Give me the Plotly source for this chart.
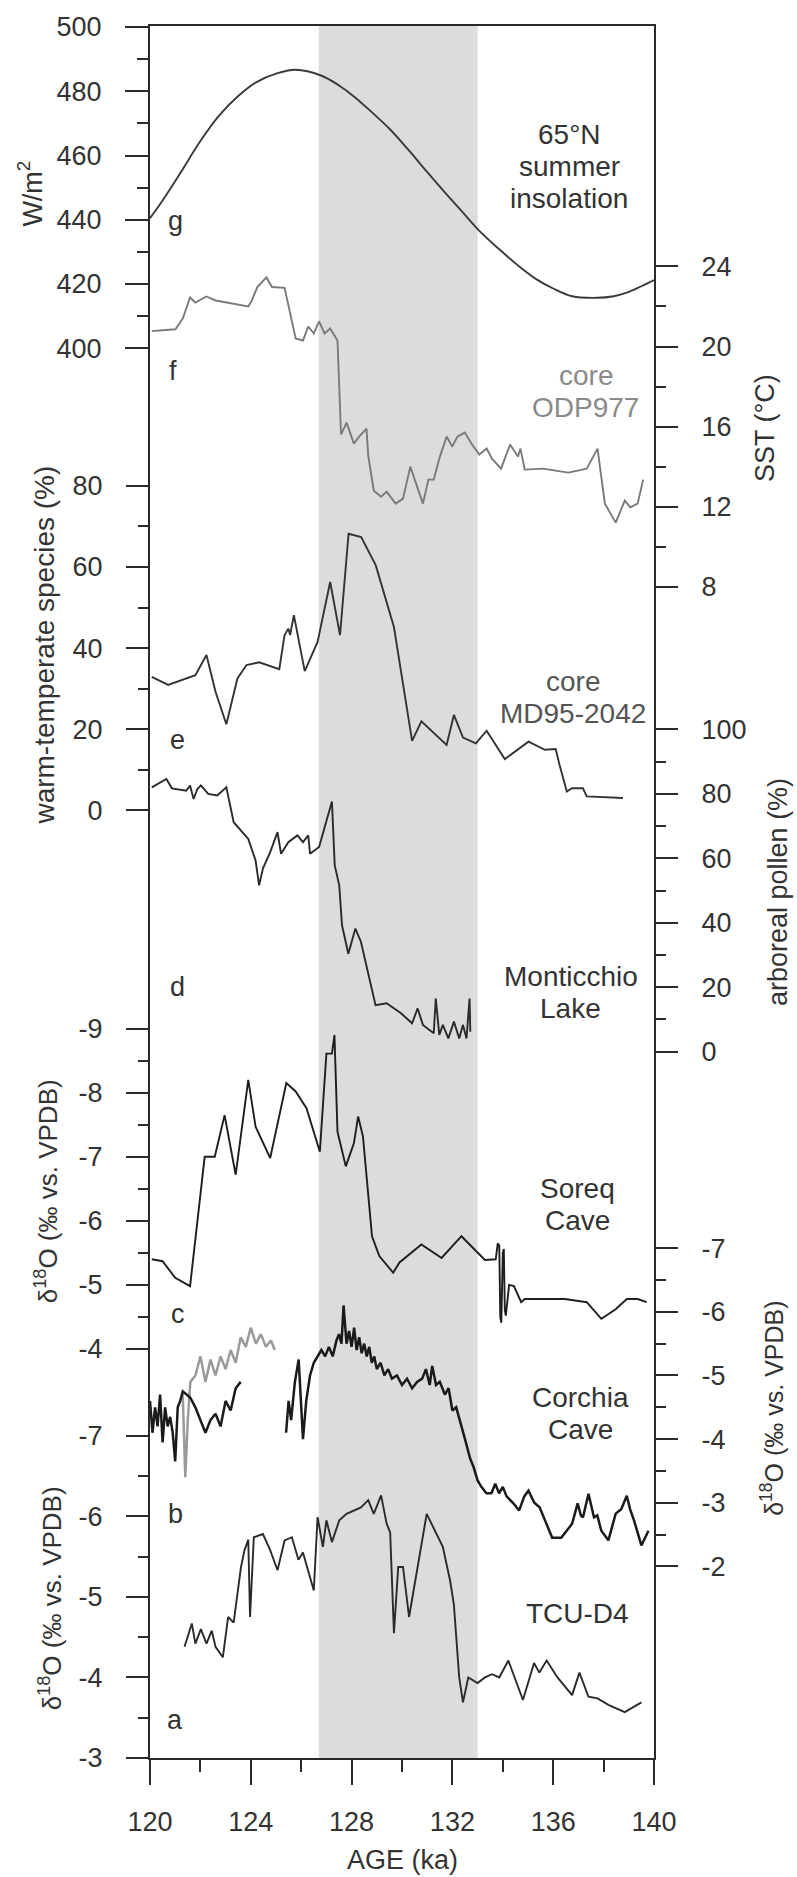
import plotly.graph_objects as go

# ---------------- data ----------------
band_ka = [126.7, 133.0]

# g: 65N summer insolation (W/m2)
ins_age = [120.0, 120.5, 121.16, 122.0, 122.74, 123.5, 124.19, 125.0, 125.78, 126.79, 127.5, 128.09, 128.8, 129.53, 130.25, 130.97, 131.7, 132.42, 133.1, 133.86, 134.6, 135.31, 136.0, 136.75, 137.76, 138.4, 138.92, 139.5, 140.0]
ins_val = [440.5, 446.0, 454.0, 464.5, 472.4, 478.5, 482.7, 485.5, 486.7, 484.9, 481.8, 478.4, 473.5, 468.1, 461.8, 455.1, 448.5, 442.2, 436.3, 430.8, 425.8, 421.6, 418.6, 416.2, 415.7, 416.2, 417.3, 419.3, 421.2]

# f: SST core ODP977 (degC)
sst_age = [120.07, 121.01, 121.3, 121.59, 121.8, 122.24, 122.6, 123.9, 124.04, 124.26, 124.62, 124.84, 125.34, 125.78, 126.07, 126.28, 126.5, 126.71, 126.93, 127.15, 127.44, 127.58, 127.8, 128.09, 128.3, 128.59, 128.66, 128.88, 129.17, 129.39, 129.75, 130.04, 130.33, 130.62, 130.83, 131.05, 131.26, 131.48, 131.77, 131.99, 132.2, 132.49, 132.78, 133.07, 133.36, 133.57, 133.93, 134.29, 134.6, 134.7, 134.87, 135.59, 136.6, 137.33, 137.76, 138.05, 138.48, 138.84, 139.06, 139.35, 139.57]
sst_val = [20.77, 20.86, 21.4, 22.45, 22.2, 22.5, 22.3, 22.0, 22.3, 22.97, 23.45, 22.97, 22.93, 20.4, 20.3, 21.0, 20.65, 21.25, 20.65, 20.9, 20.3, 15.6, 16.2, 15.15, 15.5, 15.9, 14.55, 12.8, 12.5, 12.75, 12.15, 12.4, 14.0, 12.9, 12.15, 13.35, 13.35, 14.4, 15.5, 15.0, 15.5, 15.7, 15.1, 14.6, 14.9, 14.4, 13.9, 15.1, 14.5, 14.9, 13.85, 13.9, 13.7, 13.9, 14.9, 12.15, 11.2, 12.3, 11.97, 12.15, 13.35]

# e: warm-temperate species, core MD95-2042 (%)
wts_age = [120.07, 120.72, 121.8, 122.24, 122.6, 123.03, 123.47, 123.83, 124.33, 125.13, 125.34, 125.49, 125.56, 125.71, 126.14, 126.65, 127.15, 127.54, 127.88, 128.38, 128.96, 129.68, 130.4, 130.77, 131.77, 132.06, 132.42, 132.93, 133.36, 134.08, 135.02, 135.67, 136.1, 136.25, 136.54, 136.75, 137.18, 137.33, 138.77]
wts_val = [32.9, 30.9, 33.3, 38.3, 29.2, 21.2, 32.5, 35.8, 36.5, 34.8, 43.2, 44.8, 43.2, 48.1, 34.3, 41.5, 56.3, 43.2, 68.2, 67.4, 60.4, 45.2, 17.1, 21.9, 16.1, 23.5, 17.9, 16.5, 19.6, 12.6, 16.9, 14.9, 15.1, 11.2, 4.6, 5.4, 5.4, 3.4, 3.0]

# d: arboreal pollen, Monticchio Lake (%)
ap_age = [120.07, 120.65, 120.87, 121.44, 121.59, 121.73, 121.88, 122.02, 122.31, 122.67, 123.03, 123.32, 123.9, 124.19, 124.33, 124.48, 124.77, 125.06, 125.2, 125.49, 125.85, 126.07, 126.28, 126.35, 126.71, 127.22, 127.33, 127.51, 127.62, 127.87, 128.15, 128.37, 128.95, 129.39, 129.96, 130.4, 130.62, 130.83, 131.26, 131.34, 131.48, 131.62, 131.84, 132.06, 132.27, 132.42, 132.56, 132.68, 132.71]
ap_val = [82.0, 84.6, 81.7, 81.0, 82.6, 78.4, 81.5, 82.6, 80.0, 79.5, 82.0, 71.2, 66.0, 59.3, 51.6, 56.8, 61.9, 68.1, 61.4, 65.0, 67.1, 65.0, 67.1, 61.4, 63.5, 77.6, 57.8, 51.6, 39.2, 30.4, 38.2, 34.1, 14.4, 15.0, 11.9, 8.8, 13.4, 8.3, 5.7, 16.5, 5.2, 8.3, 4.1, 9.3, 4.1, 8.3, 4.1, 16.5, 6.2]

# c: Soreq Cave d18O
sor_age = [120.07, 120.5, 121.0, 121.59, 122.17, 122.57, 122.96, 123.4, 123.9, 124.19, 124.77, 125.41, 125.78, 126.21, 126.74, 127.0, 127.22, 127.32, 127.44, 127.77, 128.09, 128.26, 128.45, 128.66, 128.81, 129.1, 129.65, 129.9, 130.77, 131.57, 132.36, 133.29, 133.72, 133.8, 133.86, 133.9, 133.94, 134.0, 134.04, 134.08, 134.12, 134.25, 134.44, 134.73, 134.87, 136.46, 137.33, 137.91, 138.48, 138.92, 139.35, 139.71]
sor_val = [-5.40, -5.37, -5.11, -4.98, -7.0, -7.0, -7.65, -6.72, -8.2, -7.47, -6.98, -8.15, -8.02, -7.76, -7.08, -8.61, -8.61, -8.9, -7.39, -6.85, -7.21, -7.63, -7.32, -6.41, -5.76, -5.45, -5.19, -5.35, -5.63, -5.42, -5.76, -5.39, -5.40, -5.65, -5.61, -4.5, -4.41, -5.5, -5.56, -4.6, -4.52, -5.0, -4.98, -4.73, -4.78, -4.78, -4.73, -4.47, -4.62, -4.78, -4.78, -4.73]

# b: Corchia Cave d18O (black and grey records)
cor1_age = [120.0, 120.1, 120.2, 120.3, 120.4, 120.5, 120.6, 120.7, 120.8, 120.9, 121.0, 121.1, 121.2, 121.3, 121.45, 121.6, 121.8, 122.0, 122.2, 122.4, 122.6, 122.8, 123.0, 123.2, 123.4, 123.6]
cor1_val = [-4.6, -4.1, -4.5, -4.2, -4.7, -3.95, -4.5, -4.2, -4.35, -4.1, -3.65, -4.5, -4.6, -4.75, -4.7, -4.65, -4.5, -4.3, -4.1, -4.3, -4.4, -4.2, -4.6, -4.45, -4.8, -4.9]
corg_age = [121.3, 121.4, 121.5, 121.6, 121.8, 122.0, 122.2, 122.4, 122.6, 122.8, 123.0, 123.2, 123.4, 123.6, 123.8, 124.0, 124.2, 124.4, 124.6, 124.8, 124.95]
corg_val = [-4.7, -3.4, -4.3, -4.9, -5.0, -5.3, -4.9, -5.25, -5.0, -5.3, -5.1, -5.4, -5.2, -5.6, -5.45, -5.75, -5.5, -5.65, -5.45, -5.55, -5.4]
cor2_age = [125.4, 125.5, 125.6, 125.75, 125.9, 126.0, 126.07, 126.2, 126.35, 126.5, 126.65, 126.8, 126.95, 127.1, 127.25, 127.4, 127.5, 127.6, 127.68, 127.8, 127.9, 128.0, 128.1, 128.2, 128.3, 128.4, 128.5, 128.6, 128.7, 128.8, 128.9, 129.0, 129.15, 129.3, 129.45, 129.6, 129.8, 130.0, 130.2, 130.4, 130.6, 130.8, 130.95, 131.1, 131.2, 131.35, 131.5, 131.7, 131.85, 132.0, 132.15, 132.3, 132.5, 132.7, 132.85, 133.0, 133.15, 133.35, 133.55, 133.7, 133.85, 134.0, 134.15, 134.4, 134.65, 134.85, 135.02, 135.25, 135.46, 135.7, 135.96, 136.32, 136.75, 136.97, 137.1, 137.18, 137.4, 137.62, 137.75, 137.91, 138.19, 138.48, 138.7, 138.92, 139.05, 139.21, 139.5, 139.78]
cor2_val = [-4.1, -4.6, -4.3, -4.9, -5.25, -4.4, -4.0, -4.6, -5.0, -5.2, -5.3, -5.4, -5.3, -5.45, -5.3, -5.55, -5.65, -5.5, -6.1, -5.5, -5.7, -5.45, -5.75, -5.4, -5.6, -5.35, -5.5, -5.3, -5.45, -5.2, -5.3, -5.1, -5.2, -5.0, -5.1, -4.95, -5.0, -4.85, -4.95, -4.8, -4.9, -4.95, -5.1, -4.85, -5.15, -4.85, -4.9, -4.7, -4.8, -4.45, -4.5, -4.3, -4.0, -3.7, -3.55, -3.35, -3.25, -3.15, -3.15, -3.3, -3.15, -3.25, -3.1, -3.0, -2.88, -3.1, -3.19, -3.0, -2.93, -2.7, -2.45, -2.45, -2.67, -2.99, -2.8, -2.77, -3.14, -2.77, -2.8, -2.56, -2.41, -2.83, -2.9, -3.11, -2.9, -2.72, -2.33, -2.56]

# a: TCU-D4 d18O
tcu_age = [121.37, 121.66, 121.8, 122.02, 122.24, 122.45, 122.6, 122.89, 123.1, 123.32, 123.61, 123.75, 123.9, 123.97, 124.12, 124.48, 124.77, 125.06, 125.34, 125.63, 125.89, 126.07, 126.5, 126.65, 126.86, 127.0, 127.22, 127.51, 127.8, 128.09, 128.37, 128.66, 128.88, 129.17, 129.39, 129.53, 129.68, 129.85, 130.04, 130.28, 130.98, 131.62, 131.91, 132.06, 132.27, 132.42, 132.63, 133.0, 133.29, 133.57, 133.86, 134.22, 134.8, 135.24, 135.45, 135.74, 136.17, 136.75, 137.04, 137.4, 137.76, 138.19, 138.84, 139.5]
tcu_val = [-4.38, -4.67, -4.42, -4.6, -4.42, -4.58, -4.38, -4.25, -4.75, -4.68, -5.37, -5.58, -5.71, -4.75, -5.74, -5.78, -5.58, -5.33, -5.7, -5.74, -5.46, -5.55, -5.08, -5.99, -5.62, -5.95, -5.68, -5.95, -6.03, -6.07, -6.11, -6.2, -6.03, -6.26, -5.91, -5.8, -4.55, -5.37, -5.37, -4.75, -6.03, -5.62, -5.2, -4.9, -4.0, -3.69, -4.0, -3.93, -4.0, -4.04, -4.0, -4.21, -3.72, -4.18, -4.06, -4.21, -4.0, -3.78, -4.06, -3.76, -3.74, -3.66, -3.57, -3.69]

# axis ticks
x_major = [120, 124, 128, 132, 136, 140]
x_minor = [122, 126, 130, 134, 138]
g_major = [400, 420, 440, 460, 480, 500]
g_minor = [410, 430, 450, 470, 490]
f_major = [8, 12, 16, 20, 24]
f_minor = [10, 14, 18, 22]
e_major = [0, 20, 40, 60, 80]
e_minor = [10, 30, 50, 70]
d_major = [0, 20, 40, 60, 80, 100]
d_minor = [10, 30, 50, 70, 90]
c_major = [-9, -8, -7, -6, -5, -4]
c_minor = [-8.5, -7.5, -6.5, -5.5, -4.5]
b_major = [-7, -6, -5, -4, -3, -2]
b_minor = [-6.5, -5.5, -4.5, -3.5, -2.5]
a_major = [-7, -6, -5, -4, -3]
a_minor = [-6.5, -5.5, -4.5, -3.5]

# ---------------- layout geometry ----------------
W, H = 797, 1877
L, R, T, B = 150, 654, 22, 1758
FONT = "Liberation Sans, Arial, sans-serif"
TXT = "#333333"
LINE = "#2a2a2a"


def yrange(v_a, p_a, v_b, p_b):
    k = (p_a - p_b) / (v_b - v_a)
    return [v_a - (B - p_a) / k, v_b + (p_b - T) / k]


def px(xp):
    return (xp - L) / (R - L)


def py(yp):
    return (B - yp) / (B - T)


def lab(v):
    return [("%g" % t) for t in v]


fig = go.Figure()

fig.add_shape(type="rect", xref="x", yref="paper", x0=band_ka[0], x1=band_ka[1], y0=0, y1=1,
              fillcolor="#dcdcdc", line_width=0, layer="below")

lw = 1.9
fig.add_trace(go.Scatter(x=ins_age, y=ins_val, mode="lines", line=dict(color="#3a3a3a", width=lw, shape="spline"), yaxis="y"))
fig.add_trace(go.Scatter(x=sst_age, y=sst_val, mode="lines", line=dict(color="#7a7a7a", width=lw), yaxis="y2"))
fig.add_trace(go.Scatter(x=wts_age, y=wts_val, mode="lines", line=dict(color="#333333", width=lw), yaxis="y3"))
fig.add_trace(go.Scatter(x=ap_age, y=ap_val, mode="lines", line=dict(color="#2a2a2a", width=lw), yaxis="y4"))
fig.add_trace(go.Scatter(x=sor_age, y=sor_val, mode="lines", line=dict(color="#1e1e1e", width=lw), yaxis="y5"))
fig.add_trace(go.Scatter(x=corg_age, y=corg_val, mode="lines", line=dict(color="#9a9a9a", width=lw + 0.6), yaxis="y6"))
fig.add_trace(go.Scatter(x=cor1_age, y=cor1_val, mode="lines", line=dict(color="#1a1a1a", width=lw + 0.6), yaxis="y6"))
fig.add_trace(go.Scatter(x=cor2_age, y=cor2_val, mode="lines", line=dict(color="#1a1a1a", width=lw + 0.6), yaxis="y6"))
fig.add_trace(go.Scatter(x=tcu_age, y=tcu_val, mode="lines", line=dict(color="#2a2a2a", width=lw), yaxis="y7"))

tickfont = dict(family=FONT, size=27, color=TXT)


def yax(rng, major, minor, side, **kw):
    d = dict(range=rng, tickmode="array", tickvals=major, ticktext=lab(major),
             ticks="outside", ticklen=23, tickwidth=2, tickcolor=LINE,
             minor=dict(tickmode="array", tickvals=minor, ticks="outside", ticklen=11, tickwidth=2, tickcolor=LINE),
             showgrid=False, zeroline=False, side=side, tickfont=tickfont,
             ticklabelstandoff=18, fixedrange=True)
    d.update(kw)
    return d


fig.update_layout(
    width=W, height=H,
    margin=dict(l=L, r=W - R, t=T, b=H - B, pad=0),
    paper_bgcolor="white", plot_bgcolor="white",
    showlegend=False,
    xaxis=dict(range=[120, 140], tickmode="array", tickvals=x_major, ticktext=lab(x_major),
               ticks="outside", ticklen=25, tickwidth=2, tickcolor=LINE,
               minor=dict(tickmode="array", tickvals=x_minor, ticks="outside", ticklen=12, tickwidth=2, tickcolor=LINE),
               showline=True, mirror=True, linewidth=2, linecolor=LINE,
               showgrid=False, zeroline=False, tickfont=tickfont, ticklabelstandoff=14),
    yaxis=yax(yrange(400, 345, 500, 23), g_major, g_minor, "left",
              showline=True, mirror=True, linewidth=2, linecolor=LINE),
    yaxis2=yax(yrange(8, 584, 24, 263), f_major, f_minor, "right", overlaying="y", anchor="x"),
    yaxis3=yax(yrange(0, 808, 80, 483), e_major, e_minor, "left", overlaying="y", anchor="x"),
    yaxis4=yax(yrange(0, 1050, 100, 727), d_major, d_minor, "right", overlaying="y", anchor="x"),
    yaxis5=yax(yrange(-4, 1348, -9, 1027), c_major, c_minor, "left", overlaying="y", anchor="x"),
    yaxis6=yax(yrange(-2, 1566, -7, 1247), b_major, b_minor, "right", overlaying="y", anchor="x"),
    yaxis7=yax(yrange(-3, 1758, -7, 1435), a_major, a_minor, "left", overlaying="y", anchor="x"),
)

titles = [
    ("W/m<sup>2</sup>", 30, 190, 27),
    ("warm-temperate species (%)", 45, 643, 28),
    ("δ<sup>18</sup>O (‰ vs. VPDB)", 46, 1190, 26),
    ("δ<sup>18</sup>O (‰ vs. VPDB)", 50, 1598, 26),
    ("SST (°C)", 765, 425, 27),
    ("arboreal pollen (%)", 778, 890, 27),
    ("δ<sup>18</sup>O (‰ vs. VPDB)", 772, 1408, 25),
]
for text, xp, yp, fs in titles:
    fig.add_annotation(text=text, x=px(xp), y=py(yp), xref="paper", yref="paper",
                       textangle=-90, showarrow=False, font=dict(family=FONT, size=fs, color=TXT),
                       xanchor="center", yanchor="middle")

fig.add_annotation(text="AGE (ka)", x=0.5, y=py(1860), xref="paper", yref="paper",
                   showarrow=False, font=dict(family=FONT, size=27, color=TXT),
                   xanchor="center", yanchor="middle")

letters = [("g", 121.0, 217), ("f", 120.9, 368), ("e", 121.1, 738), ("d", 121.1, 985),
           ("c", 121.1, 1313), ("b", 121.0, 1513), ("a", 121.0, 1720)]
for t, xa, yp in letters:
    fig.add_annotation(text=t, x=xa, y=py(yp), xref="x", yref="paper", showarrow=False,
                       font=dict(family=FONT, size=27, color=TXT), xanchor="center", yanchor="middle")

# record names: (lines, centre age, first-line y px, colour)
names = [(["65°N", "summer", "insolation"], 136.64, 131, TXT),
         (["core", "ODP977"], 137.3, 372, "#8a8a8a"),
         (["core", "MD95-2042"], 136.8, 679, "#555555"),
         (["Monticchio", "Lake"], 136.7, 975, TXT),
         (["Soreq", "Cave"], 136.97, 1187, TXT),
         (["Corchia", "Cave"], 137.1, 1397, TXT),
         (["TCU-D4"], 136.97, 1613, TXT)]
LS = 32
for lines, xa, y0, col in names:
    for i, t in enumerate(lines):
        fig.add_annotation(text=t, x=xa, y=py(y0 + i * LS), xref="x", yref="paper", showarrow=False,
                           font=dict(family=FONT, size=28, color=col), xanchor="center", yanchor="middle")

fig.write_html("out.html")
